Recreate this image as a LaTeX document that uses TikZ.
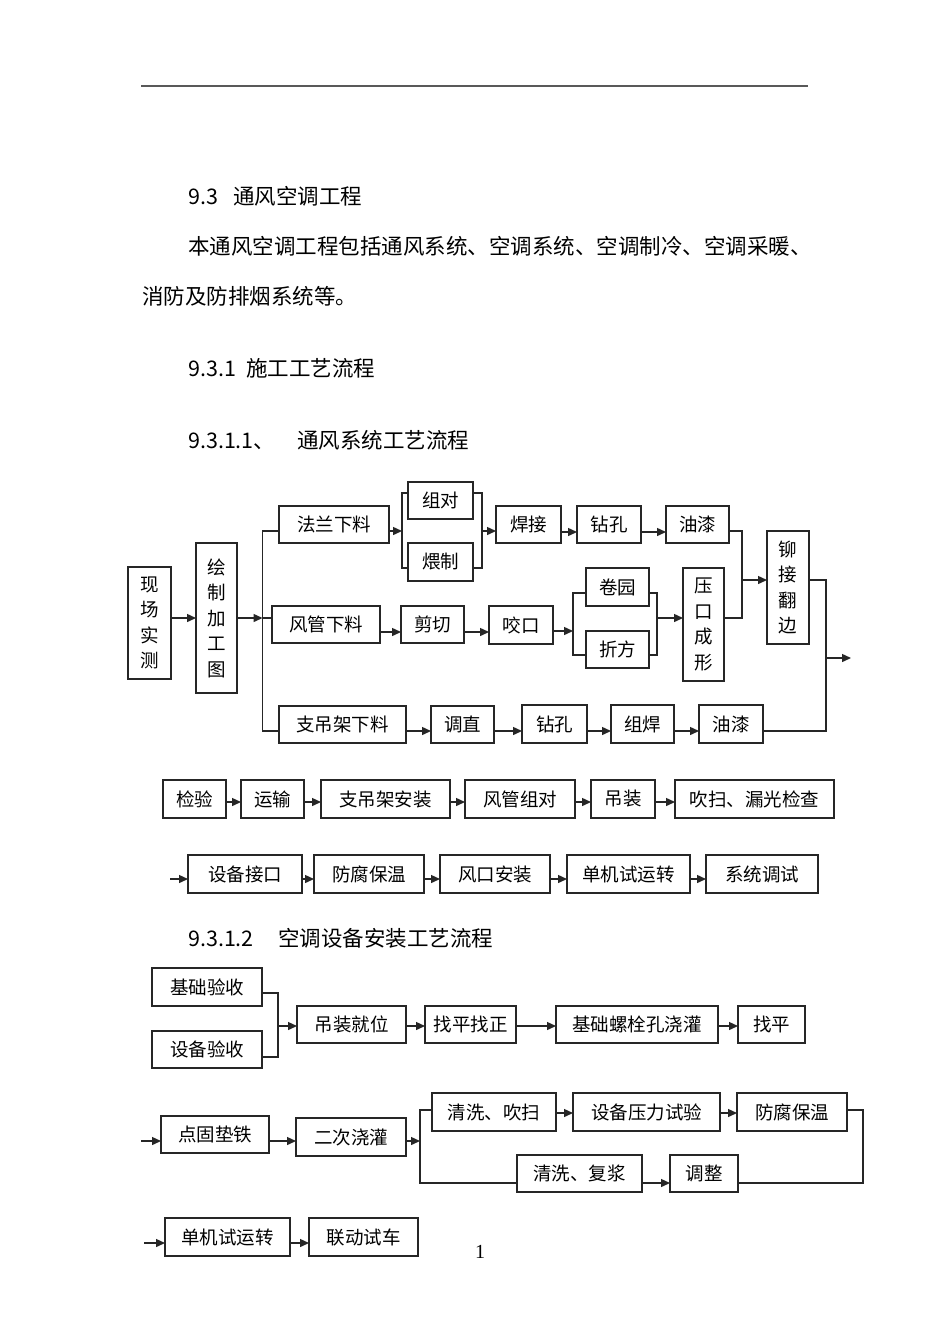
\documentclass[tikz,border=0pt]{standalone}
\usepackage{fontspec}
\newfontfamily\cjk{Noto Sans CJK SC}
\newfontfamily\tms{Liberation Serif}
\usetikzlibrary{arrows.meta}
\tikzset{
  boxst/.style={draw=black!85,line width=1.1pt,inner sep=0pt,outer sep=0pt,align=center,
    font=\cjk\fontsize{18.5}{25.5}\selectfont},
  ln/.style={draw=black!85,line width=1.4pt},
  arr/.style={ln,-{Triangle[length=9pt,width=8pt]}},
  body/.style={anchor=west,inner sep=0pt,font=\cjk\fontsize{21.5}{26}\selectfont}
}
\newcommand\bx[6]{\node[boxst,minimum width={(#4-#2)*1pt},minimum height={(#5-#3)*1pt}] (#1) at ({(#2+#4)/2},{(#3+#5)/2}) {#6};}
\begin{document}
\begin{tikzpicture}[x=1pt,y=-1pt]
\useasboundingbox (0,0) rectangle (950,1344);
\fill[white] (0,0) rectangle (950,1344);
% header rule
\draw[line width=2pt,black!65] (141,86) -- (808,86);
% texts
\node[body] (t1) at (188,196) {\makebox[45pt][l]{9.3}通风空调工程};
\node[body] (t2) at (188,246) {本通风空调工程包括通风系统、空调系统、空调制冷、空调采暖、};
\node[body] (t3) at (142,296) {消防及防排烟系统等。};
\node[body] (t4) at (188,368) {\makebox[58pt][l]{9.3.1}施工工艺流程};
\node[body] (t5) at (188,440) {9.3.1.1、\hspace{22pt}通风系统工艺流程};
\node[body] (t6) at (188,938) {\makebox[90pt][l]{9.3.1.2}空调设备安装工艺流程};
\node[anchor=center,inner sep=0pt,font=\tms\fontsize{20}{24}\selectfont] (pg) at (480,1252) {1};

% ===== chart 1 =====
\bx{xcsc}{128}{567}{171}{679}{现\\场\\实\\测}
\bx{hzjgt}{196}{543}{237}{693}{绘\\制\\加\\工\\图}
\bx{flxl}{279}{506}{389}{543}{法兰下料}
\bx{zd}{408}{482}{473}{519}{组对}
\bx{wz}{408}{543}{473}{581}{煨制}
\bx{hj}{496}{506}{561}{543}{焊接}
\bx{zka}{577}{506}{641}{543}{钻孔}
\bx{yqa}{666}{506}{729}{543}{油漆}
\bx{fgxl}{272}{606}{380}{643}{风管下料}
\bx{jq}{401}{606}{464}{643}{剪切}
\bx{yk}{489}{606}{553}{644}{咬口}
\bx{jy}{586}{568}{649}{606}{卷园}
\bx{zf}{586}{631}{649}{668}{折方}
\bx{ykcx}{683}{568}{724}{681}{压\\口\\成\\形}
\bx{mjfb}{767}{531}{809}{644}{铆\\接\\翻\\边}
\bx{zdjxl}{279}{706}{406}{743}{支吊架下料}
\bx{tz}{431}{706}{494}{743}{调直}
\bx{zkb}{522}{705}{587}{743}{钻孔}
\bx{zh}{611}{705}{674}{743}{组焊}
\bx{yqb}{699}{705}{763}{743}{油漆}

\coordinate (a1) at (262.5,618);
\coordinate (a1t) at (262.5,531);
\coordinate (a1b) at (262.5,731);
\draw[arr] (xcsc.east|-a1) -- (hzjgt.west|-a1);
\draw[arr] (hzjgt.east|-a1) -- (a1);
\draw[ln] (flxl.west|-a1t) -- (a1t) -- (a1b) -- (zdjxl.west|-a1b);
\draw[ln] (a1) -- (fgxl.west|-a1);

\coordinate (b1) at (402,531);
\coordinate (b1t) at (402,493);
\coordinate (b1b) at (402,568);
\draw[arr] (flxl.east|-b1) -- (b1);
\draw[ln] (zd.west|-b1t) -- (b1t) -- (b1b) -- (wz.west|-b1b);
\coordinate (b2) at (482,531);
\coordinate (b2t) at (482,493);
\coordinate (b2b) at (482,568);
\draw[ln] (zd.east|-b2t) -- (b2t) -- (b2b) -- (wz.east|-b2b);
\draw[arr] (b2) -- (hj.west|-b2);
\coordinate (r1) at (0,532);
\draw[arr] (hj.east|-r1) -- (zka.west|-r1);
\draw[arr] (zka.east|-r1) -- (yqa.west|-r1);
\coordinate (c1t) at (742,531);
\coordinate (c1m) at (742,580);
\coordinate (c1b) at (742,618);
\draw[ln] (yqa.east|-c1t) -- (c1t) -- (c1b) -- (ykcx.east|-c1b);
\draw[arr] (c1m) -- (mjfb.west|-c1m);

\coordinate (r2) at (0,632);
\draw[arr] (fgxl.east|-r2) -- (jq.west|-r2);
\draw[arr] (jq.east|-r2) -- (yk.west|-r2);
\coordinate (d1) at (573,631);
\coordinate (d1t) at (573,593);
\coordinate (d1b) at (573,655);
\draw[arr] (yk.east|-d1) -- (d1);
\draw[ln] (jy.west|-d1t) -- (d1t) -- (d1b) -- (zf.west|-d1b);
\coordinate (d2) at (657,618);
\coordinate (d2t) at (657,593);
\coordinate (d2b) at (657,655);
\draw[ln] (jy.east|-d2t) -- (d2t) -- (d2b) -- (zf.east|-d2b);
\draw[arr] (d2) -- (ykcx.west|-d2);

\coordinate (e1t) at (826,580);
\coordinate (e1m) at (826,658);
\coordinate (e1b) at (826,731);
\coordinate (eout) at (851,658);
\draw[ln] (mjfb.east|-e1t) -- (e1t) -- (e1b) -- (yqb.east|-e1b);
\draw[arr] (e1m) -- (eout);

\coordinate (r3) at (0,731);
\draw[arr] (zdjxl.east|-r3) -- (tz.west|-r3);
\draw[arr] (tz.east|-r3) -- (zkb.west|-r3);
\draw[arr] (zkb.east|-r3) -- (zh.west|-r3);
\draw[arr] (zh.east|-r3) -- (yqb.west|-r3);

% ===== row 2 =====
\bx{jyan}{163}{780}{226}{818}{检验}
\bx{ys}{241}{780}{304}{818}{运输}
\bx{zdjaz}{321}{780}{450}{818}{支吊架安装}
\bx{fgzd}{465}{780}{575}{818}{风管组对}
\bx{dz}{591}{780}{655}{818}{吊装}
\bx{cs}{675}{780}{834}{818}{吹扫、漏光检查}
\coordinate (r4) at (0,802);
\draw[arr] (jyan.east|-r4) -- (ys.west|-r4);
\draw[arr] (ys.east|-r4) -- (zdjaz.west|-r4);
\draw[arr] (zdjaz.east|-r4) -- (fgzd.west|-r4);
\draw[arr] (fgzd.east|-r4) -- (dz.west|-r4);
\draw[arr] (dz.east|-r4) -- (cs.west|-r4);

% ===== row 3 =====
\bx{sbjk}{188}{855}{302}{893}{设备接口}
\bx{ffbw}{314}{855}{424}{893}{防腐保温}
\bx{fkaz}{440}{855}{550}{893}{风口安装}
\bx{djsy}{567}{855}{690}{893}{单机试运转}
\bx{xttz}{706}{855}{818}{893}{系统调试}
\coordinate (r5) at (0,879);
\coordinate (s5) at (170,879);
\draw[arr] (s5) -- (sbjk.west|-r5);
\draw[arr] (sbjk.east|-r5) -- (ffbw.west|-r5);
\draw[arr] (ffbw.east|-r5) -- (fkaz.west|-r5);
\draw[arr] (fkaz.east|-r5) -- (djsy.west|-r5);
\draw[arr] (djsy.east|-r5) -- (xttz.west|-r5);

% ===== chart 2 =====
\bx{jcys}{152}{968}{262}{1006}{基础验收}
\bx{sbys}{152}{1031}{262}{1068}{设备验收}
\bx{dzjw}{297}{1006}{406}{1043}{吊装就位}
\bx{zpzz}{425}{1006}{516}{1043}{找平找正}
\bx{jcls}{556}{1006}{718}{1043}{基础螺栓孔浇灌}
\bx{zp}{738}{1006}{805}{1043}{找平}
\coordinate (f1t) at (278,993);
\coordinate (f1m) at (278,1026);
\coordinate (f1b) at (278,1057);
\draw[ln] (jcys.east|-f1t) -- (f1t) -- (f1b) -- (sbys.east|-f1b);
\draw[arr] (f1m) -- (dzjw.west|-f1m);
\draw[arr] (dzjw.east|-f1m) -- (zpzz.west|-f1m);
\draw[arr] (zpzz.east|-f1m) -- (jcls.west|-f1m);
\draw[arr] (jcls.east|-f1m) -- (zp.west|-f1m);

\bx{dgdt}{161}{1116}{269}{1153}{点固垫铁}
\bx{ecjg}{296}{1118}{406}{1156}{二次浇灌}
\bx{qxcs}{432}{1093}{556}{1131}{清洗、吹扫}
\bx{sbyl}{573}{1093}{720}{1131}{设备压力试验}
\bx{ffbwb}{737}{1093}{847}{1131}{防腐保温}
\bx{qxfj}{517}{1155}{642}{1192}{清洗、复浆}
\bx{tzb}{670}{1155}{738}{1192}{调整}
\coordinate (g0) at (141,1141);
\coordinate (g1) at (420,1141);
\coordinate (g1t) at (420,1110);
\coordinate (g1b) at (420,1183);
\coordinate (h1t) at (863,1110);
\coordinate (h1b) at (863,1183);
\coordinate (r6) at (0,1113);
\draw[arr] (g0) -- (dgdt.west|-g0);
\draw[arr] (dgdt.east|-g0) -- (ecjg.west|-g0);
\draw[arr] (ecjg.east|-g1) -- (g1);
\draw[ln] (qxcs.west|-g1t) -- (g1t) -- (g1b) -- (qxfj.west|-g1b);
\draw[arr] (qxcs.east|-r6) -- (sbyl.west|-r6);
\draw[arr] (sbyl.east|-r6) -- (ffbwb.west|-r6);
\draw[ln] (ffbwb.east|-h1t) -- (h1t) -- (h1b) -- (tzb.east|-h1b);
\draw[arr] (qxfj.east|-h1b) -- (tzb.west|-h1b);

\bx{djsyb}{165}{1218}{290}{1256}{单机试运转}
\bx{ldsc}{309}{1218}{418}{1256}{联动试车}
\coordinate (k0) at (144,1243);
\draw[arr] (k0) -- (djsyb.west|-k0);
\draw[arr] (djsyb.east|-k0) -- (ldsc.west|-k0);
\end{tikzpicture}
\end{document}
